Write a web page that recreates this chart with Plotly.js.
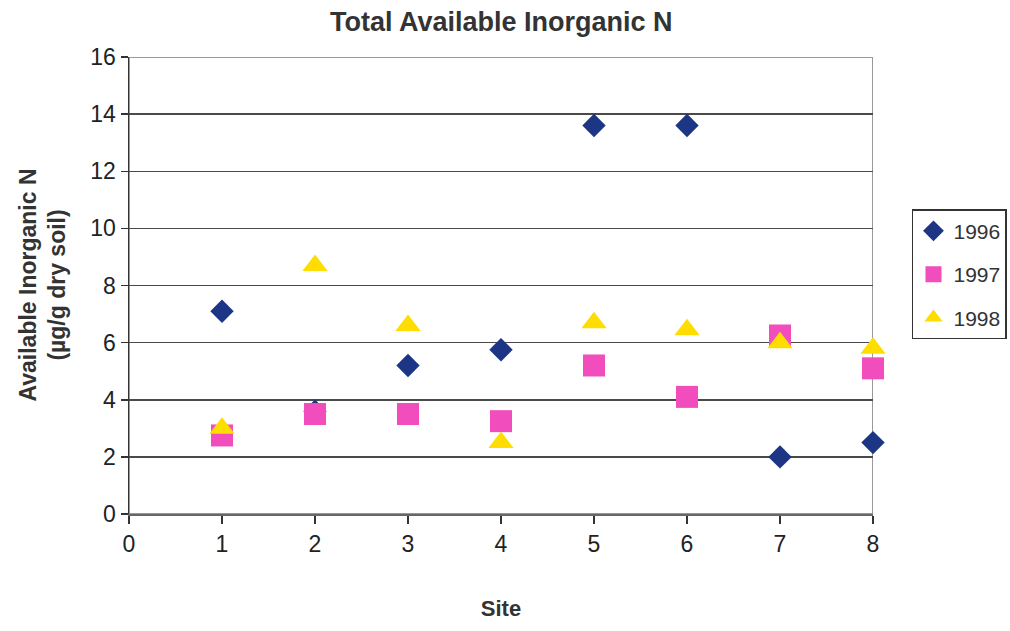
<!DOCTYPE html>
<html>
<head>
<meta charset="utf-8">
<script src="https://cdn.plot.ly/plotly-3.0.1.min.js"></script>
<style>
  html, body { margin: 0; padding: 0; background: #fff; }
  #chart { width: 1010px; height: 631px; }
</style>
</head>
<body>
<div id="chart"></div>
<script>
// Total available inorganic N by site and year
const sites = [1, 2, 3, 4, 5, 6, 7, 8];
const n1996 = [7.1, 3.6, 5.2, 5.75, 13.6, 13.6, 2.0, 2.5];
const n1997 = [2.75, 3.5, 3.5, 3.25, 5.2, 4.1, 6.25, 5.1];
const n1998 = [3.0, 8.7, 6.6, 2.5, 6.7, 6.45, 6.0, 5.8];
const yearNames = ['1996', '1997', '1998'];
const xTicks = [0, 1, 2, 3, 4, 5, 6, 7, 8];
const yTicks = [0, 2, 4, 6, 8, 10, 12, 14, 16];

const FONT = 'Liberation Sans, Arial, sans-serif';

const traces = [
  { x: sites, y: n1996, name: yearNames[0], legendgroup: 'a', type: 'scatter', mode: 'markers', cliponaxis: false,
    marker: { symbol: 'diamond', size: 18, color: '#1c3584' } },
  { x: sites, y: n1997, name: yearNames[1], legendgroup: 'b', type: 'scatter', mode: 'markers', cliponaxis: false,
    marker: { symbol: 'square', size: 22, color: '#f24dbd' } },
  { x: sites, y: n1998, name: yearNames[2], legendgroup: 'c', type: 'scatter', mode: 'markers', cliponaxis: false,
    marker: { symbol: 'triangle-up', size: 22, color: '#ffdd00' } }
];

const layout = {
  width: 1010, height: 631,
  margin: { l: 129, r: 137, t: 57, b: 117, autoexpand: false },
  paper_bgcolor: '#fff', plot_bgcolor: '#fff',
  showlegend: true,
  font: { family: FONT, color: '#222', size: 22 },
  xaxis: {
    range: [0, 8], tickvals: xTicks, ticktext: xTicks.map(String),
    showgrid: false, zeroline: false,
    showline: true, linecolor: '#666', linewidth: 2,
    ticks: 'outside', ticklen: 8, tickcolor: '#333', tickwidth: 1.5,
    tickfont: { size: 23, family: FONT, color: '#222' },
    title: { text: '<b>Site</b>', font: { size: 22, family: FONT, color: '#333' }, standoff: 45 }
  },
  yaxis: {
    range: [0, 16], tickvals: yTicks, ticktext: yTicks.map(String),
    showgrid: true, gridcolor: '#4a4a4a', gridwidth: 1.5,
    zeroline: false,
    showline: true, linecolor: '#333', linewidth: 1.5,
    ticks: 'outside', ticklen: 7, tickcolor: '#333', tickwidth: 1.5,
    tickfont: { size: 23, family: FONT, color: '#222' }
  },
  shapes: [
    { type: 'rect', xref: 'x', yref: 'y', x0: 0, x1: 8, y0: 0, y1: 16,
      line: { color: '#999', width: 2 }, layer: 'below' }
  ],
  annotations: [
    { text: '<b>Total Available Inorganic N</b>', xref: 'paper', yref: 'paper',
      x: 0.5, y: 1, xanchor: 'center', yanchor: 'bottom', showarrow: false,
      yshift: 18, font: { size: 27, family: FONT, color: '#333' } },
    { text: '<b>Available Inorganic N</b><br><b>(µg/g dry soil)</b>', xref: 'paper', yref: 'paper',
      x: 0, y: 0.5, xanchor: 'center', yanchor: 'middle', textangle: -90, showarrow: false,
      xshift: -87, font: { size: 23, family: FONT, color: '#333' } }
  ],
  legend: {
    x: 1.0524, y: 0.667, xanchor: 'left', yanchor: 'top',
    bordercolor: '#333', borderwidth: 1.5, bgcolor: '#fff',
    font: { size: 21, family: FONT, color: '#333' },
    tracegroupgap: 13, itemwidth: 30
  }
};

Plotly.newPlot('chart', traces, layout, { displayModeBar: false, staticPlot: true });
</script>
</body>
</html>
